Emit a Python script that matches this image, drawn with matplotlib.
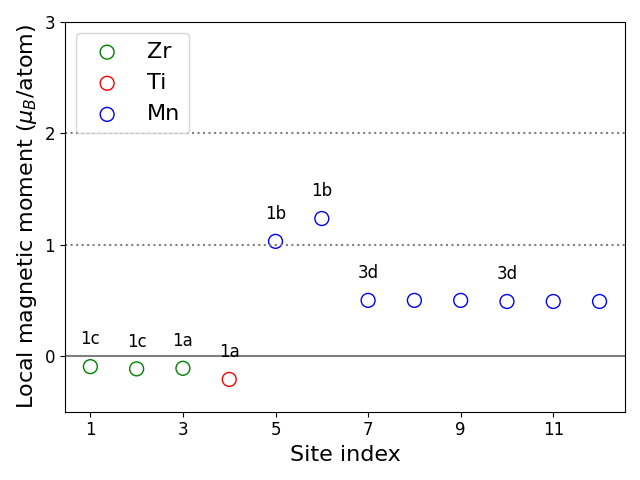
import matplotlib
matplotlib.use("Agg")
import matplotlib.pyplot as plt

zr_x = [1, 2, 3]
zr_y = [-0.095, -0.115, -0.11]
ti_x = [4]
ti_y = [-0.21]
mn_x = [5, 6, 7, 8, 9, 10, 11, 12]
mn_y = [1.03, 1.235, 0.50, 0.50, 0.50, 0.49, 0.49, 0.49]

labels = ["1c", "1c", "1a", "1a", "1b", "1b", "3d", "3d"]
label_x = [1, 2, 3, 4, 5, 6, 7, 10]

fig, ax = plt.subplots(figsize=(6.4, 4.8), dpi=100)
ax.axhline(0, color="gray", lw=1.5)
ax.axhline(1, color="gray", ls=":", lw=1.5)
ax.axhline(2, color="gray", ls=":", lw=1.5)
ax.scatter(zr_x, zr_y, s=100, facecolors="none", edgecolors="green", label="Zr")
ax.scatter(ti_x, ti_y, s=100, facecolors="none", edgecolors="red", label="Ti")
ax.scatter(mn_x, mn_y, s=100, facecolors="none", edgecolors="blue", label="Mn")

all_x = zr_x + ti_x + mn_x
all_y = zr_y + ti_y + mn_y
for lx, lab in zip(label_x, labels):
    yv = all_y[all_x.index(lx)]
    ax.text(lx, yv + 0.2, lab, ha="center", fontsize=12)

ax.set_ylim(-0.5, 3)
ax.set_yticks([0, 1, 2, 3])
ax.set_xticks([1, 3, 5, 7, 9, 11])
ax.tick_params(labelsize=12)
ax.set_xlabel("Site index", fontsize=16)
ax.set_ylabel(r"Local magnetic moment ($\mu_B$/atom)", fontsize=16)
ax.legend(fontsize=16, loc="upper left")
fig.tight_layout()
fig.savefig("out.png")
